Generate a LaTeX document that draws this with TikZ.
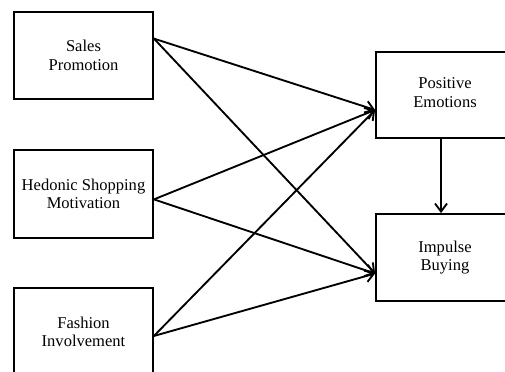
\documentclass[tikz,border=0pt]{standalone}
\usepackage{fontspec}
\setmainfont{Liberation Serif}
\usetikzlibrary{arrows.meta,calc}
\begin{document}
\begin{tikzpicture}[x=0.75pt,y=-0.75pt,
  box/.style={draw,line width=1.4pt,align=center,inner sep=0pt,font=\fontsize{12.4}{14}\selectfont},
  label/.style={font=\fontsize{12.4}{14}\selectfont,align=center},
  link/.style={line width=1.4pt,-{Straight Barb[length=6pt,width=9pt,line width=1.4pt]}}]
\useasboundingbox (0,0) rectangle (505,371);
\clip (0,0) rectangle (505,371);
\fill[white] (0,0) rectangle (505,371);
\node[box,minimum width=104.25pt,minimum height=65.25pt] (sales) at (83.5,55.5) {Sales\\Promotion};
\node[box,minimum width=104.25pt,minimum height=66pt] (hedonic) at (83.5,194) {Hedonic Shopping\\Motivation};
\node[box,minimum width=104.25pt,minimum height=65.25pt] (fashion) at (83.5,331.5) {};
\node[label] (fashiontext) at (83.5,332) {Fashion\\Involvement};
\node[box,minimum width=97.5pt,minimum height=64.5pt] (positive) at (441,95) {};
\node[label] (positivetext) at (445,92.5) {Positive\\Emotions};
\node[box,minimum width=97.5pt,minimum height=65.25pt] (impulse) at (441,257.5) {};
\node[label] (impulsetext) at (445,257.5) {Impulse\\Buying};
\coordinate (s1) at ($(sales.north east)!0.31!(sales.south east)$);
\coordinate (s2) at ($(hedonic.north east)!0.56!(hedonic.south east)$);
\coordinate (s3) at ($(fashion.north east)!0.55!(fashion.south east)$);
\coordinate (t1) at ($(positive.north west)!0.67!(positive.south west)$);
\coordinate (t2) at ($(impulse.north west)!0.68!(impulse.south west)$);
\draw[link] (s1) -- (t1);
\draw[link] (s1) -- (t2);
\draw[link] (s2) -- (t1);
\draw[link] (s2) -- (t2);
\draw[link] (s3) -- (t1);
\draw[link] (s3) -- (t2);
\draw[link] (positive.south) -- (impulse.north);
\end{tikzpicture}
\end{document}
